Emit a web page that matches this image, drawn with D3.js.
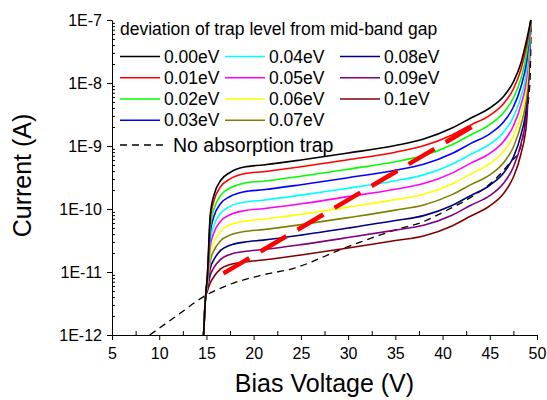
<!DOCTYPE html>
<html>
<head>
<meta charset="utf-8">
<script src="https://cdn.jsdelivr.net/npm/d3@7"></script>
<style>
  body { margin: 0; background: #fff; }
  svg { font-family: Arial, "Liberation Sans", sans-serif; }
</style>
</head>
<body>
<div id="wrapper"></div>
<script>
const voltages = [14.7, 14.9, 15.1, 15.4, 15.8, 16.5, 17.5, 19, 21, 25, 30, 35, 38, 41, 43, 45, 46.5, 47.5, 48.3, 48.9, 49.35]

// Current (A) for each trap level, same order as voltages
const trap000 = [1e-12, 3.9e-12, 9.0e-12, 8.0e-11, 1.67e-10, 2.83e-10, 3.8e-10, 4.64e-10, 5.0e-10, 6.0e-10, 7.74e-10, 1.02e-9, 1.29e-9, 1.93e-9, 2.78e-9, 4.01e-9, 6.22e-9, 1.04e-8, 2.08e-8, 4.81e-8, 1e-7]
const trap001 = [1e-12, 3.9e-12, 8.6e-12, 6.74e-11, 1.36e-10, 2.26e-10, 3.0e-10, 3.63e-10, 3.91e-10, 4.69e-10, 6.06e-10, 7.97e-10, 1.01e-9, 1.5e-9, 2.16e-9, 3.07e-9, 4.78e-9, 8.03e-9, 1.64e-8, 3.91e-8, 1e-7]
const trap002 = [1e-12, 3.9e-12, 8.1e-12, 5.26e-11, 1.0e-10, 1.64e-10, 2.15e-10, 2.57e-10, 2.76e-10, 3.32e-10, 4.28e-10, 5.64e-10, 7.06e-10, 1.05e-9, 1.51e-9, 2.19e-9, 3.43e-9, 5.78e-9, 1.18e-8, 2.9e-8, 1e-7]
const trap003 = [1e-12, 3.9e-12, 7.7e-12, 4.2e-11, 7.69e-11, 1.22e-10, 1.58e-10, 1.88e-10, 2.02e-10, 2.43e-10, 3.14e-10, 4.13e-10, 5.14e-10, 7.6e-10, 1.1e-9, 1.56e-9, 2.45e-9, 4.16e-9, 8.73e-9, 2.21e-8, 1e-7]
const trap004 = [1e-12, 3.9e-12, 7.2e-12, 3.2e-11, 5.53e-11, 8.58e-11, 1.1e-10, 1.28e-10, 1.38e-10, 1.66e-10, 2.14e-10, 2.81e-10, 3.48e-10, 5.12e-10, 7.38e-10, 1.07e-9, 1.69e-9, 2.88e-9, 6.06e-9, 1.59e-8, 1e-7]
const trap005 = [1e-12, 3.9e-12, 6.8e-12, 2.56e-11, 4.24e-11, 6.4e-11, 8.09e-11, 9.4e-11, 1.01e-10, 1.21e-10, 1.57e-10, 2.06e-10, 2.53e-10, 3.71e-10, 5.35e-10, 7.63e-10, 1.2e-9, 2.08e-9, 4.49e-9, 1.21e-8, 1e-7]
const trap006 = [1e-12, 3.9e-12, 6.4e-12, 1.95e-11, 3.05e-11, 4.49e-11, 5.6e-11, 6.4e-11, 6.89e-11, 8.26e-11, 1.07e-10, 1.41e-10, 1.71e-10, 2.5e-10, 3.61e-10, 5.24e-10, 8.3e-10, 1.44e-9, 3.12e-9, 8.73e-9, 1e-7]
const trap007 = [1e-12, 3.9e-12, 6.0e-12, 1.48e-11, 2.2e-11, 3.14e-11, 3.85e-11, 4.38e-11, 4.71e-11, 5.65e-11, 7.3e-11, 9.6e-11, 1.16e-10, 1.69e-10, 2.44e-10, 3.47e-10, 5.51e-10, 9.64e-10, 2.16e-9, 6.27e-9, 1e-7]
const trap008 = [1e-12, 3.9e-12, 5.65e-12, 1.13e-11, 1.58e-11, 2.2e-11, 2.66e-11, 2.98e-11, 3.21e-11, 3.85e-11, 4.98e-11, 6.55e-11, 7.85e-11, 1.14e-10, 1.64e-10, 2.38e-10, 3.8e-10, 6.69e-10, 1.5e-9, 4.51e-9, 1e-7]
const trap009 = [1e-12, 3.9e-12, 5.33e-12, 8.8e-12, 1.18e-11, 1.59e-11, 1.9e-11, 2.11e-11, 2.27e-11, 2.72e-11, 3.52e-11, 4.62e-11, 5.51e-11, 7.97e-11, 1.15e-10, 1.63e-10, 2.61e-10, 4.64e-10, 1.08e-9, 3.34e-9, 1e-7]
const trap010 = [1e-12, 3.9e-12, 5.0e-12, 6.69e-12, 8.48e-12, 1.12e-11, 1.31e-11, 1.44e-11, 1.55e-11, 1.86e-11, 2.4e-11, 3.16e-11, 3.73e-11, 5.37e-11, 7.74e-11, 1.12e-10, 1.79e-10, 3.22e-10, 7.46e-10, 2.4e-9, 1e-7]

const trapLabels = ["0.00eV", "0.01eV", "0.02eV", "0.03eV", "0.04eV", "0.05eV", "0.06eV", "0.07eV", "0.08eV", "0.09eV", "0.1eV"]
const trapColors = ["#000000", "#ff0000", "#00ff00", "#0000ff", "#00ffff", "#ff00ff", "#ffff00", "#808000", "#000080", "#800080", "#800000"]

// "No absorption trap" reference curve
const noTrapVoltage = [9.0, 12.0, 15.0, 17.3, 20.9, 24.4, 27, 29.1, 31.3, 33.4, 35.5, 37.6, 40.4, 42.9, 45.7, 47.1, 48.2, 48.9, 49.25, 49.4]
const noTrapCurrent = [1e-12, 2.1e-12, 4.31e-12, 6.22e-12, 8.96e-12, 1.16e-11, 1.64e-11, 2.24e-11, 2.99e-11, 3.87e-11, 4.9e-11, 6.0e-11, 9.46e-11, 1.5e-10, 3.1e-10, 5.37e-10, 8.96e-10, 3.47e-9, 1.0e-8, 1e-7]

// thick red dashed trend through the plateaus
const trendVoltage = [16.8, 43.75]
const trendCurrent = [9.5e-12, 2.3e-9]

const xTicks = [5, 10, 15, 20, 25, 30, 35, 40, 45, 50]
const yTicks = [1e-12, 1e-11, 1e-10, 1e-9, 1e-8, 1e-7]

const dimensions = {
  width: 547,
  height: 400,
  margin: { top: 20, right: 10, bottom: 65, left: 112 }
}
dimensions.boundedWidth = dimensions.width - dimensions.margin.left - dimensions.margin.right
dimensions.boundedHeight = dimensions.height - dimensions.margin.top - dimensions.margin.bottom

const series = [trap000, trap001, trap002, trap003, trap004, trap005, trap006, trap007, trap008, trap009, trap010]
  .map((vals, i) => ({ label: trapLabels[i], color: trapColors[i], points: vals.map((c, j) => [voltages[j], c]) }))

const wrapper = d3.select("#wrapper").append("svg")
  .attr("width", dimensions.width)
  .attr("height", dimensions.height)

const bounds = wrapper.append("g")
  .attr("transform", `translate(${dimensions.margin.left},${dimensions.margin.top})`)

const xScale = d3.scaleLinear().domain([5, 50]).range([0, dimensions.boundedWidth])
const yScale = d3.scaleLog().domain([1e-12, 1e-7]).range([dimensions.boundedHeight, 0])

const lineGen = d3.line()
  .x(d => xScale(d[0]))
  .y(d => yScale(d[1]))
  .curve(d3.curveMonotoneX)

// no-trap dashed curve
bounds.append("path")
  .attr("d", lineGen(noTrapVoltage.map((v, i) => [v, noTrapCurrent[i]])))
  .attr("fill", "none")
  .attr("stroke", "#000")
  .attr("stroke-width", 1.3)
  .attr("stroke-dasharray", "7,5")

// trap curves, last one drawn first so black ends up on top
bounds.append("g").selectAll("path")
  .data(series.slice().reverse())
  .enter().append("path")
  .attr("d", d => lineGen(d.points))
  .attr("fill", "none")
  .attr("stroke", d => d.color)
  .attr("stroke-width", 1.6)

// red trend
bounds.append("path")
  .attr("d", d3.line().x(d => xScale(d[0])).y(d => yScale(d[1]))(trendVoltage.map((v, i) => [v, trendCurrent[i]])))
  .attr("stroke", "#ff0000")
  .attr("stroke-width", 4.5)
  .attr("stroke-dasharray", "30,13")

// axes
const yAxis = bounds.append("g")
  .call(d3.axisLeft(yScale).tickValues(yTicks).tickSize(5).tickPadding(5)
    .tickFormat(d => `1E${Math.round(Math.log10(d))}`))
yAxis.selectAll("text").style("font-size", "16px").attr("fill", "#000")

const yMinor = []
yTicks.slice(0, -1).forEach(t => { for (let k = 2; k <= 9; k++) yMinor.push(t * k) })
bounds.append("g")
  .call(d3.axisRight(yScale).tickValues(yMinor).tickSize(3).tickFormat(""))
  .call(g => g.select(".domain").remove())

const xAxis = bounds.append("g")
  .attr("transform", `translate(0,${dimensions.boundedHeight})`)
  .call(d3.axisBottom(xScale).tickValues(xTicks).tickSize(5).tickPadding(8).tickFormat(d3.format("d")))
xAxis.selectAll("text").style("font-size", "16px").attr("fill", "#000")

bounds.append("g")
  .attr("transform", `translate(0,${dimensions.boundedHeight})`)
  .call(d3.axisTop(xScale).tickValues(xTicks.slice(0, -1).map(t => t + 2.5)).tickSize(4).tickFormat(""))
  .call(g => g.select(".domain").remove())

bounds.selectAll(".domain, .tick line").attr("stroke", "#000")

// axis labels
wrapper.append("text")
  .attr("x", dimensions.margin.left + dimensions.boundedWidth / 2)
  .attr("y", 392)
  .attr("text-anchor", "middle")
  .style("font-size", "25px")
  .text("Bias Voltage (V)")

wrapper.append("text")
  .attr("transform", `translate(31,${dimensions.margin.top + dimensions.boundedHeight / 2 - 2}) rotate(-90)`)
  .attr("text-anchor", "middle")
  .style("font-size", "25px")
  .text("Current (A)")

// legend
const legend = wrapper.append("g")
legend.append("text")
  .attr("x", 120)
  .attr("y", 35)
  .style("font-size", "17.5px")
  .text("deviation of trap level from mid-band gap")

const colX = [120, 225, 340]
const rowY = [56.5, 77.8, 99, 120.3]
const items = legend.selectAll("g.item")
  .data(series)
  .enter().append("g")
  .attr("transform", (d, i) => `translate(${colX[Math.floor(i / 4)]},${rowY[i % 4]})`)
items.append("line")
  .attr("x1", 0).attr("x2", 40)
  .attr("stroke", d => d.color)
  .attr("stroke-width", 1.6)
items.append("text")
  .attr("x", 44)
  .attr("dy", "0.35em")
  .style("font-size", "17.5px")
  .text(d => d.label)

legend.append("line")
  .attr("x1", 120).attr("x2", 167)
  .attr("y1", 145).attr("y2", 145)
  .attr("stroke", "#000")
  .attr("stroke-width", 1.3)
  .attr("stroke-dasharray", "7,5")
legend.append("text")
  .attr("x", 173)
  .attr("y", 145)
  .attr("dy", "0.35em")
  .style("font-size", "19.5px")
  .text("No absorption trap")
</script>
</body>
</html>
